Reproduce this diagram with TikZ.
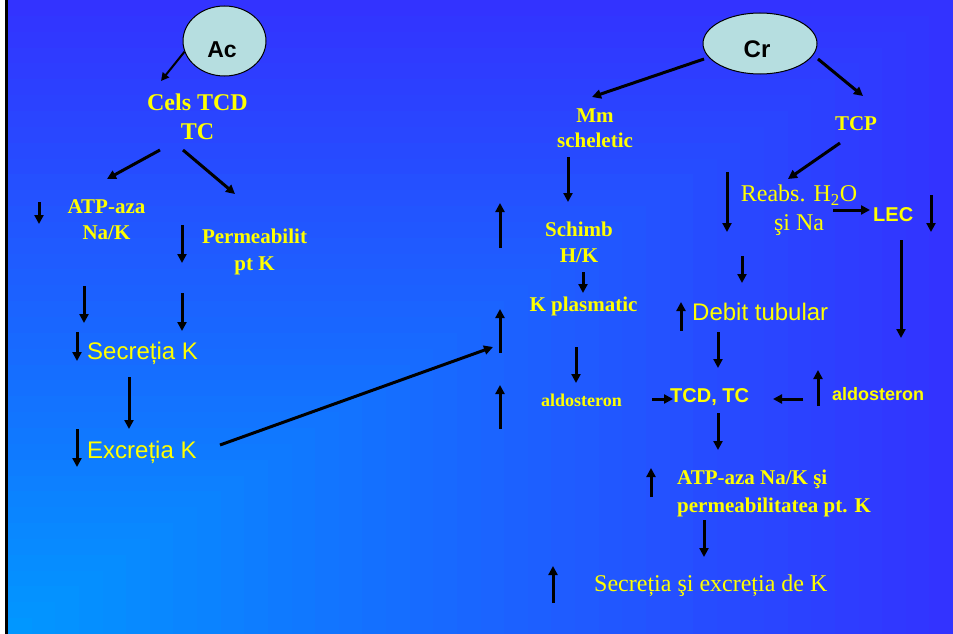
\documentclass[tikz,border=0pt]{standalone}
\usepackage{fontspec}
\setmainfont{Liberation Serif}
\newfontfamily\arialf{Liberation Sans}
\usetikzlibrary{arrows.meta,shapes.geometric}
\definecolor{outerc}{HTML}{3333FF}
\definecolor{innerc}{HTML}{0099FF}
\definecolor{ylw}{HTML}{FFFF00}
\definecolor{ellc}{HTML}{B6DEE0}
\begin{document}
\begin{tikzpicture}[x=1pt,y=-1pt,
  arr/.style={line width=3pt,-{Triangle[length=9pt,width=9pt]}},
  thinarr/.style={line width=2pt,-{Triangle[length=8pt,width=8pt]}},
  ellnode/.style={ellipse,draw=black,line width=1pt,fill=ellc,inner sep=0pt,
    font=\arialf\bfseries\fontsize{23}{26}\selectfont},
  bt/.style={text=ylw,inner sep=0pt,font=\bfseries\fontsize{21}{26}\selectfont},
  rt/.style={text=ylw,inner sep=0pt,font=\fontsize{24}{29}\selectfont},
  st/.style={text=ylw,inner sep=0pt,font=\arialf\fontsize{24}{29}\selectfont},
  sbt/.style={text=ylw,inner sep=0pt,font=\arialf\bfseries\fontsize{20}{24}\selectfont}
]
\useasboundingbox (0,0) rectangle (953,634);
% background
\fill[white] (0,0) rectangle (5,634);
\fill[black] (5,0) rectangle (8,634);
\foreach \i in {40,39,...,1}{
  \pgfmathtruncatemacro\p{2.5*\i}
  \pgfmathsetmacro\gx{8+23.625*\i}
  \pgfmathsetmacro\gy{634-15.85*\i}
  \fill[outerc!\p!innerc] (8,634) rectangle (\gx,\gy);
}
% ellipses
\node[ellnode,minimum width=83pt,minimum height=70pt] (ac) at (224.5,41)
  {\hspace*{-5pt}\raisebox{-17pt}[0pt][0pt]{Ac}};
\node[ellnode,minimum width=114pt,minimum height=61pt] (cr) at (760,43.5)
  {\hspace*{-6pt}\raisebox{-13.6pt}[0pt][0pt]{\fontsize{24}{26}\selectfont Cr}};
% left branch texts
\node[bt,font=\bfseries\fontsize{24}{29}\selectfont,align=center,anchor=north] (cels) at (197.5,94) {Cels TCD\\TC};
\node[bt,align=center,anchor=north] (atp) at (106.5,199.5) {ATP-aza\\Na/K};
\node[bt,font=\bfseries\fontsize{21}{27}\selectfont,align=center,anchor=north] (perm) at (254.5,229) {Permeabilit\\pt K};
\node[st,anchor=base west] (sec) at (87,359) {Secreția K};
\node[st,anchor=base west] (exc) at (87,458) {Excreția K};
% right branch texts
\node[bt,font=\bfseries\fontsize{21}{25}\selectfont,align=center,anchor=north] (mm) at (595,109) {Mm\\scheletic};
\node[bt,anchor=base] (tcp) at (856,130) {TCP};
\node[rt,align=center,anchor=north] (reabs) at (799,185) {Reabs. H\textsubscript{2}O\\şi Na};
\node[sbt,anchor=base west] (lec) at (873,221) {LEC};
\node[bt,align=center,anchor=north] (schimb) at (579,222) {Schimb\\H/K};
\node[bt,anchor=base] (kpl) at (583.5,311) {K plasmatic};
\node[bt,font=\bfseries\fontsize{18}{22}\selectfont,anchor=base] (ald1) at (581.5,406) {aldosteron};
\node[st,anchor=base west] (debit) at (692,320) {Debit tubular};
\node[sbt,anchor=base west] (tcd) at (670,402) {TCD, TC};
\node[sbt,font=\arialf\bfseries\fontsize{18}{22}\selectfont,anchor=base west] (ald2) at (832,400) {aldosteron};
\node[bt,font=\bfseries\fontsize{21}{28}\selectfont,align=left,anchor=north west] (atp2) at (677,470) {ATP-aza Na/K şi\\permeabilitatea pt. K};
\node[rt,anchor=base west] (fin) at (594,591) {Secreția şi excreția de K};
% left connectors
\draw[thinarr] (ac.195) -- (161,81);
\draw[arr] (160,150) -- (107,179);
\draw[arr] (183,150) -- (235,194);
\draw[arr] (39,202) -- (39,224);
\draw[arr] (182,225) -- (182,263);
\draw[arr] (84,286) -- (84,323);
\draw[arr] (182,293) -- (182,331);
\draw[arr] (77,332) -- (77,361);
\draw[arr] (129,377) -- (129,429);
\draw[arr] (77,429) -- (77,467);
\draw[arr] (220,445) -- (493,347);
% up arrows middle
\draw[arr] (500,248) -- (500,203);
\draw[arr] (500,353) -- (500,309);
\draw[arr] (500,429) -- (500,385);
% right connectors
\draw[arr] (704,59) -- (592,97);
\draw[arr] (818,59) -- (863,96);
\draw[arr] (568,157) -- (568,202);
\draw[arr] (840,143) -- (788,179);
\draw[arr] (833,210) -- (870,210);
\draw[arr] (931,195) -- (931,232);
\draw[arr] (727,172) -- (727,232);
\draw[arr] (901,240) -- (901,338);
\draw[arr] (742,256) -- (742,283);
\draw[arr] (583,272) -- (583,293);
\draw[arr] (576,347) -- (576,383);
\draw[arr] (652,399) -- (673,399);
\draw[arr] (803,399) -- (773,399);
\draw[arr] (818,406) -- (818,370);
\draw[arr] (681,331) -- (681,302);
\draw[arr] (718,332) -- (718,368);
\draw[arr] (718,413) -- (718,450);
\draw[arr] (651,497) -- (651,468);
\draw[arr] (704,520) -- (704,557);
\draw[arr] (553,603) -- (553,566);
\end{tikzpicture}
\end{document}
